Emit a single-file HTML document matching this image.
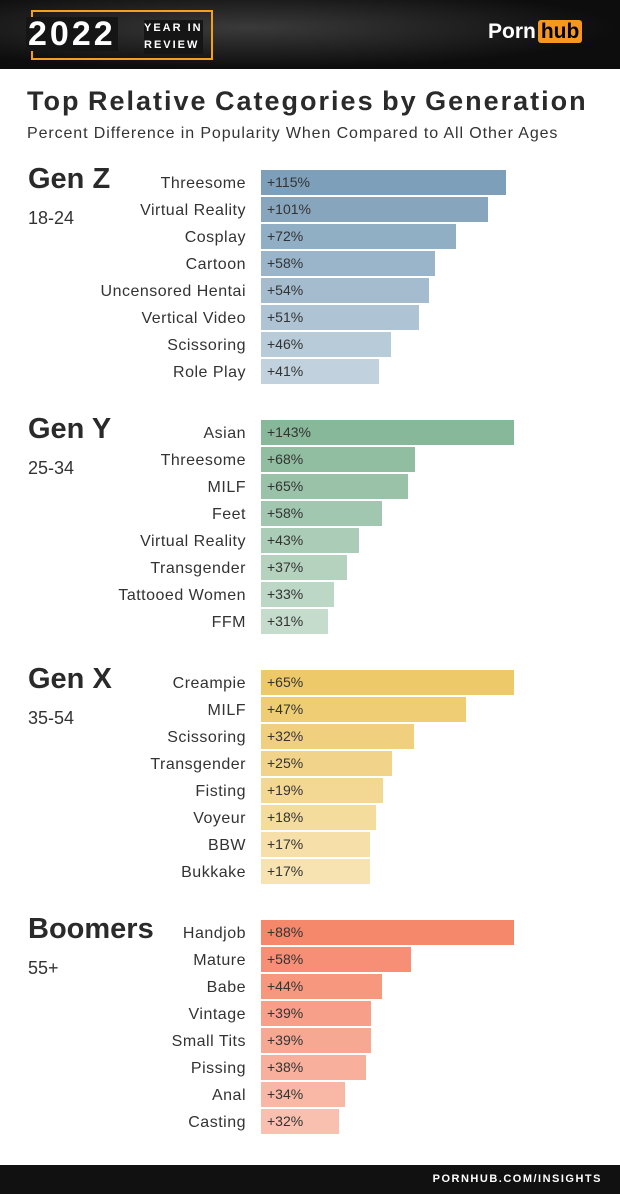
<!DOCTYPE html>
<html><head><style>
body{margin:0;width:620px;height:1194px;background:#fff;position:relative;font-family:"Liberation Sans",sans-serif;overflow:hidden;color:#2a2a2a}
.hdr{position:absolute;left:0;top:0;width:620px;height:69px;background:radial-gradient(ellipse at 40% 40%,#3a3a3a,#0d0d0d 70%)}
.box{position:absolute;left:31px;top:10px;width:182px;height:50px;border:2px solid #f5a01c;box-sizing:border-box}
.y22{position:absolute;left:26px;top:17px;font:900 34px "Liberation Sans",sans-serif;color:#fff;background:#151515;letter-spacing:3px;line-height:34px;padding:0 2px}
.yir{position:absolute;left:144px;top:20px;font:bold 11px "Liberation Sans",sans-serif;color:#fff;letter-spacing:2px;line-height:17px;background:#151515;padding-left:0}
.ph{position:absolute;left:488px;top:20px;font:bold 21px "Liberation Sans",sans-serif;color:#fff}
.ph span{background:#f7971d;color:#000;border-radius:3px;padding:0 3px;margin-left:2px}
h1{position:absolute;left:27px;top:86px;margin:0;font:bold 27px "Liberation Sans",sans-serif;color:#2a2a2a;letter-spacing:2px;word-spacing:-2px;white-space:nowrap}
.sub{position:absolute;left:27px;top:125px;font-size:16px;color:#333;letter-spacing:0.9px;white-space:nowrap}
.g{position:absolute;left:28px;font:bold 29px "Liberation Sans",sans-serif;color:#2a2a2a}
.age{position:absolute;left:28px;font-size:18px;color:#333}
.lab{position:absolute;right:374px;font-size:16px;color:#333;line-height:25px;white-space:nowrap;letter-spacing:0.5px}
.bar{position:absolute;left:261px;height:25px;font-size:14px;color:#333;line-height:25px;padding-left:6px;box-sizing:border-box}
.ftr{position:absolute;left:0;top:1165px;width:620px;height:29px;background:#111;color:#fff;font:bold 11px "Liberation Sans",sans-serif;letter-spacing:1.5px;text-align:right;box-sizing:border-box;padding-right:18px;line-height:29px}
</style></head><body>
<div class="hdr"><div class="box"></div><div class="y22">2022</div><div class="yir">YEAR IN<br>REVIEW</div><div class="ph">Porn<span>hub</span></div></div>
<h1>Top Relative Categories by Generation</h1>
<div class="sub">Percent Difference in Popularity When Compared to All Other Ages</div>
<div id="c"></div>
<div class="ftr">PORNHUB.COM/INSIGHTS</div>
<script>
var G=[
["Gen Z","18-24",170,[125,159,185],[193,210,222],[["Threesome",115,506],["Virtual Reality",101,488],["Cosplay",72,456],["Cartoon",58,435],["Uncensored Hentai",54,429],["Vertical Video",51,419],["Scissoring",46,391],["Role Play",41,379]]],
["Gen Y","25-34",420,[136,184,154],[197,220,205],[["Asian",143,514],["Threesome",68,415],["MILF",65,408],["Feet",58,382],["Virtual Reality",43,359],["Transgender",37,347],["Tattooed Women",33,334],["FFM",31,328]]],
["Gen X","35-54",670,[237,201,106],[247,227,178],[["Creampie",65,514],["MILF",47,466],["Scissoring",32,414],["Transgender",25,392],["Fisting",19,383],["Voyeur",18,376],["BBW",17,370],["Bukkake",17,370]]],
["Boomers","55+",920,[245,135,107],[249,192,175],[["Handjob",88,514],["Mature",58,411],["Babe",44,382],["Vintage",39,371],["Small Tits",39,371],["Pissing",38,366],["Anal",34,345],["Casting",32,339]]]];
var h="";
G.forEach(function(g){var y=g[2];
h+='<div class="g" style="top:'+(y-7)+'px">'+g[0]+'</div><div class="age" style="top:'+(y+38)+'px">'+g[1]+'</div>';
g[5].forEach(function(r,i){var t=i/7,c=g[3].map(function(v,k){return Math.round(v+(g[4][k]-v)*t)});
var yy=y+i*27;
h+='<div class="lab" style="top:'+(yy+1)+'px">'+r[0]+'</div><div class="bar" style="top:'+yy+'px;width:'+(r[2]-261)+'px;background:rgb('+c+')">+'+r[1]+'%</div>';});});
document.getElementById("c").innerHTML=h;
</script>
</body></html>
